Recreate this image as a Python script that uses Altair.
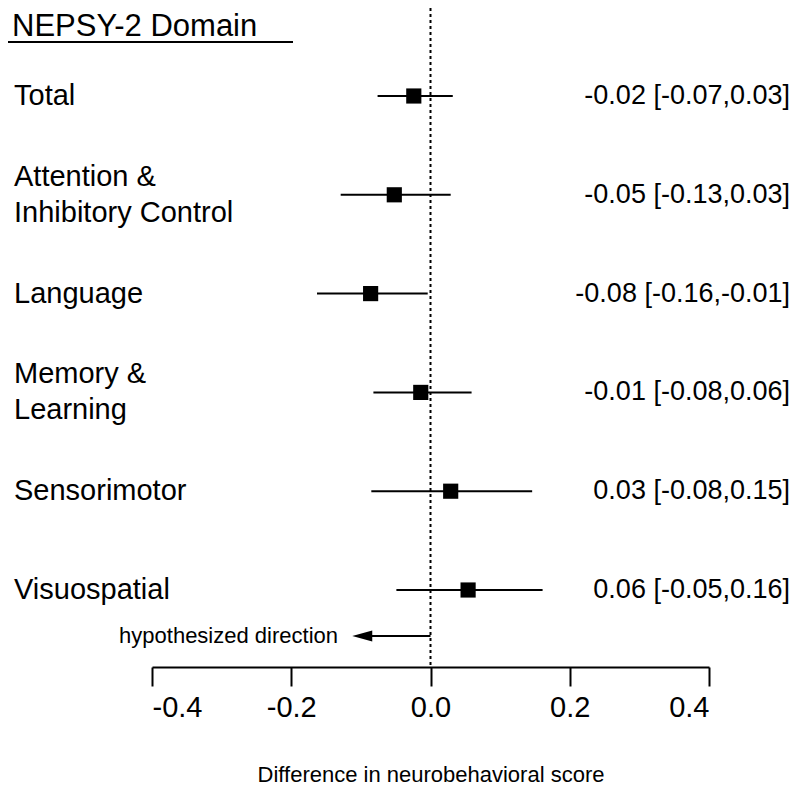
import altair as alt
import pandas as pd

domains = ["Total", "Attention &\nInhibitory Control", "Language",
           "Memory &\nLearning", "Sensorimotor", "Visuospatial"]
estimates = [-0.024, -0.052, -0.086, -0.014, 0.029, 0.054]
lower = [-0.076, -0.129, -0.163, -0.082, -0.085, -0.049]
upper = [0.032, 0.029, -0.004, 0.059, 0.146, 0.161]
ci_labels = ["-0.02 [-0.07,0.03]", "-0.05 [-0.13,0.03]", "-0.08 [-0.16,-0.01]",
             "-0.01 [-0.08,0.06]", "0.03 [-0.08,0.15]", "0.06 [-0.05,0.16]"]
tick_values = [-0.4, -0.2, 0.0, 0.2, 0.4]
arrow_start = [0.0]
arrow_end = [-0.098]

df = pd.DataFrame({
    "idx": list(range(len(domains))),
    "domain": domains,
    "nlines": [d.count("\n") + 1 for d in domains],
    "est": estimates,
    "lo": lower,
    "hi": upper,
    "label": ci_labels,
})
arrow_df = pd.DataFrame({"x0": arrow_start, "x1": arrow_end})

FONT = "Liberation Sans"
xscale = alt.Scale(domain=[-0.4, 0.4], range=[144, 701])
yscale = alt.Scale(domain=[0, 5], range=[88, 582])

base = alt.Chart(df)

ci = base.mark_rule(color="black", strokeWidth=2).encode(
    x=alt.X("lo:Q", scale=xscale,
            axis=alt.Axis(values=tick_values, grid=False,
                          labelExpr="(datum.value < 0 ? '-' : '') + format(abs(datum.value), '.1f')",
                          domainColor="black", domainWidth=2,
                          tickColor="black", tickWidth=2, tickSize=19,
                          labelFont=FONT, labelFontSize=29, labelColor="black",
                          labelPadding=7, titleFont=FONT, titleFontSize=22,
                          titleFontWeight="normal", titleColor="black",
                          titlePadding=42),
            title="Difference in neurobehavioral score"),
    x2="hi:Q",
    y=alt.Y("idx:Q", scale=yscale, axis=None),
)

pts = base.mark_square(color="black", size=230, opacity=1, filled=True).encode(
    x=alt.X("est:Q", scale=xscale),
    y=alt.Y("idx:Q", scale=yscale),
)

zero = alt.Chart(pd.DataFrame({"z": [0.0]})).mark_rule(
    color="black", strokeWidth=2, strokeDash=[3, 3]
).encode(x=alt.X("z:Q", scale=xscale), y=alt.value(0), y2=alt.value(657))

names1 = base.transform_filter("datum.nlines == 1").mark_text(
    align="left", baseline="middle", font=FONT, fontSize=29,
    lineBreak="\n", lineHeight=36, color="black").encode(
    x=alt.value(6), y=alt.Y("idx:Q", scale=yscale), text="domain:N")

names2 = base.transform_filter("datum.nlines == 2").mark_text(
    align="left", baseline="middle", font=FONT, fontSize=29, dy=-18,
    lineBreak="\n", lineHeight=36, color="black").encode(
    x=alt.value(6), y=alt.Y("idx:Q", scale=yscale), text="domain:N")

cis_txt = base.mark_text(align="right", baseline="middle", font=FONT, fontSize=27,
                         color="black").encode(
    x=alt.value(782), y=alt.Y("idx:Q", scale=yscale), text="label:N")

header = alt.Chart(pd.DataFrame({"t": ["NEPSY-2 Domain"]})).mark_text(
    align="left", baseline="alphabetic", font=FONT, fontSize=31, color="black"
).encode(x=alt.value(4), y=alt.value(28), text="t:N")

underline = alt.Chart(pd.DataFrame({"a": [0]})).mark_rule(
    color="black", strokeWidth=2
).encode(x=alt.value(0), x2=alt.value(285), y=alt.value(34))

arrow_line = alt.Chart(arrow_df).mark_rule(color="black", strokeWidth=2).encode(
    x=alt.X("x0:Q", scale=xscale), x2="x1:Q", y=alt.value(628))

arrow_head = alt.Chart(arrow_df).mark_point(
    shape="M -1 0 L 1 -0.55 L 1 0.55 Z", filled=True, color="black", size=400, opacity=1
).encode(x=alt.X("x1:Q", scale=xscale), y=alt.value(628))

arrow_txt = alt.Chart(pd.DataFrame({"t": ["hypothesized direction"]})).mark_text(
    align="right", baseline="middle", font=FONT, fontSize=22, color="black"
).encode(x=alt.value(330), y=alt.value(628), text="t:N")

chart = alt.layer(
    zero, ci, pts, names1, names2, cis_txt, header, underline,
    arrow_line, arrow_head, arrow_txt
).properties(
    width=784, height=659,
    autosize=alt.AutoSizeParams(type="none"),
    padding={"left": 0, "top": 0, "right": 0, "bottom": 121},
    background="white",
).configure_view(stroke=None)

chart.save("out.html", embed_options={"renderer": "svg", "actions": False})
